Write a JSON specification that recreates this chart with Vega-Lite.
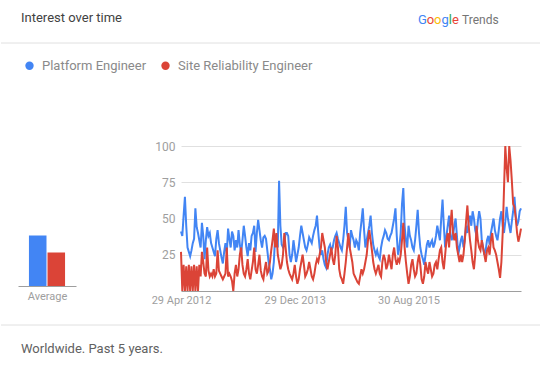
{
  "$schema": "https://vega.github.io/schema/vega-lite/v6.json",
  "padding": 0,
  "background": "white",
  "config": {"view": {"stroke": null}, "font": "Roboto"},
  "datasets": {
    "avg": [{"k": "p", "avg": 36}, {"k": "s", "avg": 24}],
    "trend": [
{"d":"2012-04-29","p":41,"s":27},{"d":"2012-05-06","p":38,"s":0},{"d":"2012-05-13","p":52,"s":18},{"d":"2012-05-20","p":65,"s":0},{"d":"2012-05-27","p":45,"s":17},
{"d":"2012-06-03","p":30,"s":0},{"d":"2012-06-10","p":27,"s":18},{"d":"2012-06-17","p":24,"s":0},{"d":"2012-06-24","p":28,"s":17},{"d":"2012-07-01","p":33,"s":0},
{"d":"2012-07-08","p":36,"s":18},{"d":"2012-07-15","p":57,"s":0},{"d":"2012-07-22","p":44,"s":17},{"d":"2012-07-29","p":40,"s":0},{"d":"2012-08-05","p":35,"s":18},
{"d":"2012-08-12","p":30,"s":10},{"d":"2012-08-19","p":47,"s":27},{"d":"2012-08-26","p":38,"s":20},{"d":"2012-09-02","p":22,"s":12},{"d":"2012-09-09","p":35,"s":10},
{"d":"2012-09-16","p":44,"s":30},{"d":"2012-09-23","p":38,"s":14},{"d":"2012-09-30","p":40,"s":10},{"d":"2012-10-07","p":33,"s":12},{"d":"2012-10-14","p":30,"s":10},
{"d":"2012-10-21","p":27,"s":15},{"d":"2012-10-28","p":24,"s":10},{"d":"2012-11-04","p":36,"s":12},{"d":"2012-11-11","p":42,"s":28},{"d":"2012-11-18","p":33,"s":14},
{"d":"2012-11-25","p":28,"s":12},{"d":"2012-12-02","p":23,"s":10},{"d":"2012-12-09","p":19,"s":8},{"d":"2012-12-16","p":27,"s":10},{"d":"2012-12-23","p":33,"s":12},
{"d":"2012-12-30","p":26,"s":30},{"d":"2013-01-06","p":43,"s":10},{"d":"2013-01-13","p":36,"s":12},{"d":"2013-01-20","p":30,"s":10},{"d":"2013-01-27","p":41,"s":7},
{"d":"2013-02-03","p":38,"s":0},{"d":"2013-02-10","p":28,"s":12},{"d":"2013-02-17","p":35,"s":18},{"d":"2013-02-24","p":30,"s":10},{"d":"2013-03-03","p":42,"s":15},
{"d":"2013-03-10","p":32,"s":25},{"d":"2013-03-17","p":26,"s":30},{"d":"2013-03-24","p":35,"s":18},{"d":"2013-03-31","p":45,"s":12},{"d":"2013-04-07","p":38,"s":10},
{"d":"2013-04-14","p":30,"s":15},{"d":"2013-04-21","p":24,"s":22},{"d":"2013-04-28","p":33,"s":12},{"d":"2013-05-05","p":28,"s":8},{"d":"2013-05-12","p":38,"s":14},
{"d":"2013-05-19","p":40,"s":20},{"d":"2013-05-26","p":45,"s":30},{"d":"2013-06-02","p":27,"s":15},{"d":"2013-06-09","p":40,"s":12},{"d":"2013-06-16","p":49,"s":18},
{"d":"2013-06-23","p":42,"s":25},{"d":"2013-06-30","p":35,"s":14},{"d":"2013-07-07","p":30,"s":10},{"d":"2013-07-14","p":37,"s":8},{"d":"2013-07-21","p":38,"s":15},
{"d":"2013-07-28","p":36,"s":20},{"d":"2013-08-04","p":28,"s":12},{"d":"2013-08-11","p":20,"s":14},{"d":"2013-08-18","p":15,"s":20},{"d":"2013-08-25","p":8,"s":28},
{"d":"2013-09-01","p":12,"s":35},{"d":"2013-09-08","p":20,"s":43},{"d":"2013-09-15","p":38,"s":30},{"d":"2013-09-22","p":35,"s":40},{"d":"2013-09-29","p":30,"s":25},
{"d":"2013-10-06","p":76,"s":20},{"d":"2013-10-13","p":45,"s":15},{"d":"2013-10-20","p":32,"s":18},{"d":"2013-10-27","p":30,"s":25},{"d":"2013-11-03","p":33,"s":40},
{"d":"2013-11-10","p":40,"s":30},{"d":"2013-11-17","p":40,"s":20},{"d":"2013-11-24","p":38,"s":15},{"d":"2013-12-01","p":25,"s":12},{"d":"2013-12-08","p":20,"s":10},
{"d":"2013-12-15","p":25,"s":8},{"d":"2013-12-22","p":35,"s":12},{"d":"2013-12-29","p":28,"s":18},{"d":"2014-01-05","p":20,"s":10},{"d":"2014-01-12","p":25,"s":5},
{"d":"2014-01-19","p":30,"s":8},{"d":"2014-01-26","p":38,"s":15},{"d":"2014-02-02","p":45,"s":20},{"d":"2014-02-09","p":40,"s":25},{"d":"2014-02-16","p":35,"s":18},
{"d":"2014-02-23","p":30,"s":10},{"d":"2014-03-02","p":28,"s":12},{"d":"2014-03-09","p":32,"s":15},{"d":"2014-03-16","p":37,"s":20},{"d":"2014-03-23","p":35,"s":15},
{"d":"2014-03-30","p":33,"s":10},{"d":"2014-04-06","p":38,"s":8},{"d":"2014-04-13","p":42,"s":12},{"d":"2014-04-20","p":45,"s":18},{"d":"2014-04-27","p":52,"s":22},
{"d":"2014-05-04","p":40,"s":20},{"d":"2014-05-11","p":30,"s":25},{"d":"2014-05-18","p":25,"s":30},{"d":"2014-05-25","p":28,"s":40},{"d":"2014-06-01","p":22,"s":35},
{"d":"2014-06-08","p":18,"s":30},{"d":"2014-06-15","p":16,"s":20},{"d":"2014-06-22","p":25,"s":15},{"d":"2014-06-29","p":30,"s":20},{"d":"2014-07-06","p":32,"s":25},
{"d":"2014-07-13","p":28,"s":30},{"d":"2014-07-20","p":30,"s":22},{"d":"2014-07-27","p":35,"s":18},{"d":"2014-08-03","p":38,"s":25},{"d":"2014-08-10","p":40,"s":38},
{"d":"2014-08-17","p":36,"s":30},{"d":"2014-08-24","p":33,"s":15},{"d":"2014-08-31","p":30,"s":10},{"d":"2014-09-07","p":28,"s":8},{"d":"2014-09-14","p":35,"s":5},
{"d":"2014-09-21","p":45,"s":12},{"d":"2014-09-28","p":58,"s":20},{"d":"2014-10-05","p":40,"s":30},{"d":"2014-10-12","p":35,"s":40},{"d":"2014-10-19","p":30,"s":30},
{"d":"2014-10-26","p":42,"s":25},{"d":"2014-11-02","p":38,"s":20},{"d":"2014-11-09","p":35,"s":12},{"d":"2014-11-16","p":30,"s":10},{"d":"2014-11-23","p":35,"s":8},
{"d":"2014-11-30","p":33,"s":6},{"d":"2014-12-07","p":28,"s":5},{"d":"2014-12-14","p":40,"s":10},{"d":"2014-12-21","p":48,"s":15},{"d":"2014-12-28","p":57,"s":12},
{"d":"2015-01-04","p":42,"s":15},{"d":"2015-01-11","p":30,"s":20},{"d":"2015-01-18","p":35,"s":25},{"d":"2015-01-25","p":40,"s":35},{"d":"2015-02-01","p":45,"s":42},
{"d":"2015-02-08","p":52,"s":35},{"d":"2015-02-15","p":40,"s":28},{"d":"2015-02-22","p":32,"s":20},{"d":"2015-03-01","p":28,"s":15},{"d":"2015-03-08","p":25,"s":12},
{"d":"2015-03-15","p":28,"s":15},{"d":"2015-03-22","p":24,"s":18},{"d":"2015-03-29","p":22,"s":12},{"d":"2015-04-05","p":30,"s":10},{"d":"2015-04-12","p":35,"s":20},
{"d":"2015-04-19","p":38,"s":25},{"d":"2015-04-26","p":42,"s":22},{"d":"2015-05-03","p":40,"s":15},{"d":"2015-05-10","p":36,"s":18},{"d":"2015-05-17","p":35,"s":25},
{"d":"2015-05-24","p":38,"s":20},{"d":"2015-05-31","p":40,"s":15},{"d":"2015-06-07","p":45,"s":25},{"d":"2015-06-14","p":50,"s":30},{"d":"2015-06-21","p":57,"s":22},
{"d":"2015-06-28","p":38,"s":18},{"d":"2015-07-05","p":25,"s":22},{"d":"2015-07-12","p":30,"s":20},{"d":"2015-07-19","p":40,"s":25},{"d":"2015-07-26","p":60,"s":35},
{"d":"2015-08-02","p":71,"s":47},{"d":"2015-08-09","p":45,"s":30},{"d":"2015-08-16","p":35,"s":20},{"d":"2015-08-23","p":30,"s":12},{"d":"2015-08-30","p":45,"s":5},
{"d":"2015-09-06","p":38,"s":10},{"d":"2015-09-13","p":35,"s":18},{"d":"2015-09-20","p":30,"s":22},{"d":"2015-09-27","p":28,"s":15},{"d":"2015-10-04","p":35,"s":10},
{"d":"2015-10-11","p":45,"s":12},{"d":"2015-10-18","p":56,"s":20},{"d":"2015-10-25","p":40,"s":25},{"d":"2015-11-01","p":30,"s":18},{"d":"2015-11-08","p":25,"s":8},
{"d":"2015-11-15","p":22,"s":5},{"d":"2015-11-22","p":18,"s":10},{"d":"2015-11-29","p":25,"s":20},{"d":"2015-12-06","p":32,"s":15},{"d":"2015-12-13","p":35,"s":12},
{"d":"2015-12-20","p":30,"s":20},{"d":"2015-12-27","p":33,"s":15},{"d":"2016-01-03","p":35,"s":10},{"d":"2016-01-10","p":30,"s":12},{"d":"2016-01-17","p":33,"s":18},
{"d":"2016-01-24","p":38,"s":20},{"d":"2016-01-31","p":45,"s":15},{"d":"2016-02-07","p":40,"s":22},{"d":"2016-02-14","p":35,"s":28},{"d":"2016-02-21","p":50,"s":30},
{"d":"2016-02-28","p":63,"s":20},{"d":"2016-03-06","p":45,"s":15},{"d":"2016-03-13","p":30,"s":25},{"d":"2016-03-20","p":38,"s":35},{"d":"2016-03-27","p":45,"s":40},
{"d":"2016-04-03","p":52,"s":30},{"d":"2016-04-10","p":40,"s":45},{"d":"2016-04-17","p":35,"s":56},{"d":"2016-04-24","p":38,"s":40},{"d":"2016-05-01","p":45,"s":35},
{"d":"2016-05-08","p":50,"s":40},{"d":"2016-05-15","p":38,"s":30},{"d":"2016-05-22","p":25,"s":25},{"d":"2016-05-29","p":30,"s":20},{"d":"2016-06-05","p":35,"s":25},
{"d":"2016-06-12","p":38,"s":20},{"d":"2016-06-19","p":30,"s":25},{"d":"2016-06-26","p":35,"s":35},{"d":"2016-07-03","p":45,"s":48},{"d":"2016-07-10","p":40,"s":59},
{"d":"2016-07-17","p":48,"s":45},{"d":"2016-07-24","p":52,"s":35},{"d":"2016-07-31","p":45,"s":28},{"d":"2016-08-07","p":55,"s":20},{"d":"2016-08-14","p":50,"s":15},
{"d":"2016-08-21","p":42,"s":25},{"d":"2016-08-28","p":38,"s":45},{"d":"2016-09-04","p":48,"s":35},{"d":"2016-09-11","p":55,"s":30},{"d":"2016-09-18","p":50,"s":28},
{"d":"2016-09-25","p":35,"s":35},{"d":"2016-10-02","p":30,"s":30},{"d":"2016-10-09","p":25,"s":25},{"d":"2016-10-16","p":28,"s":20},{"d":"2016-10-23","p":35,"s":28},
{"d":"2016-10-30","p":38,"s":30},{"d":"2016-11-06","p":32,"s":25},{"d":"2016-11-13","p":40,"s":35},{"d":"2016-11-20","p":45,"s":40},{"d":"2016-11-27","p":50,"s":30},
{"d":"2016-12-04","p":42,"s":28},{"d":"2016-12-11","p":38,"s":25},{"d":"2016-12-18","p":35,"s":20},{"d":"2016-12-25","p":42,"s":15},{"d":"2017-01-01","p":50,"s":9},
{"d":"2017-01-08","p":55,"s":20},{"d":"2017-01-15","p":45,"s":40},{"d":"2017-01-22","p":40,"s":70},{"d":"2017-01-29","p":48,"s":100},{"d":"2017-02-05","p":58,"s":85},
{"d":"2017-02-12","p":50,"s":75},{"d":"2017-02-19","p":45,"s":100},{"d":"2017-02-26","p":40,"s":90},{"d":"2017-03-05","p":48,"s":76},{"d":"2017-03-12","p":55,"s":60},
{"d":"2017-03-19","p":65,"s":58},{"d":"2017-03-26","p":52,"s":50},{"d":"2017-04-02","p":45,"s":40},{"d":"2017-04-09","p":48,"s":34},{"d":"2017-04-16","p":55,"s":38},
{"d":"2017-04-23","p":57,"s":43}
    ]
  },
  "spacing": 19,
  "vconcat": [
    {
      "width": 540,
      "height": 121,
      "data": {"values": [{}]},
      "layer": [
        {"mark": {"type": "text", "text": "Interest over time", "align": "left", "baseline": "middle", "fontSize": 13, "color": "#424242"}, "encoding": {"x": {"value": 20}, "y": {"value": 18}}},
        {"mark": {"type": "text", "text": "G", "align": "left", "baseline": "middle", "fontSize": 13, "color": "#4285F4"}, "encoding": {"x": {"value": 417}, "y": {"value": 20}}},
        {"mark": {"type": "text", "text": "o", "align": "left", "baseline": "middle", "fontSize": 13, "color": "#EA4335"}, "encoding": {"x": {"value": 425.7}, "y": {"value": 20}}},
        {"mark": {"type": "text", "text": "o", "align": "left", "baseline": "middle", "fontSize": 13, "color": "#FBBC05"}, "encoding": {"x": {"value": 433.1}, "y": {"value": 20}}},
        {"mark": {"type": "text", "text": "g", "align": "left", "baseline": "middle", "fontSize": 13, "color": "#4285F4"}, "encoding": {"x": {"value": 440.5}, "y": {"value": 20}}},
        {"mark": {"type": "text", "text": "l", "align": "left", "baseline": "middle", "fontSize": 13, "color": "#34A853"}, "encoding": {"x": {"value": 447.8}, "y": {"value": 20}}},
        {"mark": {"type": "text", "text": "e", "align": "left", "baseline": "middle", "fontSize": 13, "color": "#EA4335"}, "encoding": {"x": {"value": 451}, "y": {"value": 20}}},
        {"mark": {"type": "text", "text": "Trends", "align": "left", "baseline": "middle", "fontSize": 12, "color": "#757575"}, "encoding": {"x": {"value": 461}, "y": {"value": 20}}},
        {"mark": {"type": "rule", "color": "#e0e0e0", "strokeWidth": 1}, "encoding": {"y": {"value": 43}}}
      ]
    },
    {
      "bounds": "flush",
      "spacing": 105,
      "hconcat": [
        {
          "data": {"name": "avg"},
          "width": 75,
          "height": 140,
          "mark": {"type": "bar"},
          "encoding": {
            "x": {"field": "k", "type": "nominal", "scale": {"range": [17, 75], "paddingInner": 0.054, "paddingOuter": 0.59},
              "axis": {"title": "Average", "labels": false, "ticks": false, "domainColor": "#9e9e9e", "titleFontSize": 11, "titleColor": "#9e9e9e", "titleFontWeight": "normal", "titlePadding": 4}},
            "y": {"field": "avg", "type": "quantitative", "scale": {"domain": [0, 100]}, "axis": null},
            "color": {"field": "k", "type": "nominal", "scale": {"domain": ["p", "s"], "range": ["#4285F4", "#DB4437"]},
              "legend": {"orient": "none", "legendX": 22, "legendY": 59, "direction": "horizontal", "title": null, "symbolType": "circle", "symbolSize": 70, "symbolStrokeWidth": 0, "labelFontSize": 13, "labelColor": "#8a8a8a", "labelOffset": 6, "columnPadding": 12,
                "labelExpr": "datum.label == 'p' ? 'Platform Engineer' : 'Site Reliability Engineer'"}}
          }
        },
        {
          "data": {"name": "trend"},
          "transform": [{"fold": ["p", "s"], "as": ["k", "v"]}],
          "width": 340,
          "height": 145,
          "mark": {"type": "line", "strokeWidth": 2},
          "encoding": {
            "x": {"field": "d", "type": "temporal", "scale": {"type": "utc"},
              "axis": {"values": [{"year": 2012, "month": 4, "date": 29, "utc": true}, {"year": 2013, "month": 12, "date": 29, "utc": true}, {"year": 2015, "month": 8, "date": 30, "utc": true}],
                "labelExpr": "utcFormat(datum.value, '%d %b %Y')", "title": null, "grid": false, "ticks": false, "labelFlush": false, "domainColor": "#9e9e9e", "labelColor": "#9e9e9e", "labelFontSize": 11, "labelPadding": 3}},
            "y": {"field": "v", "type": "quantitative", "scale": {"domain": [0, 100], "nice": false},
              "axis": {"values": [25, 50, 75, 100], "title": null, "domain": false, "ticks": false, "labelColor": "#9e9e9e", "labelFontSize": 12, "labelPadding": 6, "gridColor": "#e0e0e0"}},
            "color": {"field": "k", "type": "nominal", "scale": {"domain": ["p", "s"], "range": ["#4285F4", "#DB4437"]}}
          }
        }
      ]
    },
    {
      "width": 540,
      "height": 43,
      "data": {"values": [{}]},
      "layer": [
        {"mark": {"type": "rule", "color": "#e0e0e0", "strokeWidth": 1}, "encoding": {"y": {"value": 0}}},
        {"mark": {"type": "text", "text": "Worldwide. Past 5 years.", "align": "left", "baseline": "middle", "fontSize": 13, "color": "#616161"}, "encoding": {"x": {"value": 20}, "y": {"value": 24}}}
      ]
    }
  ]
}
